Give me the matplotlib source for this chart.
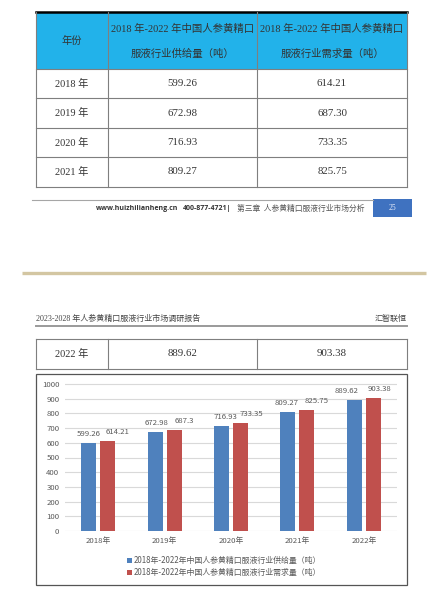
import numpy as np
import matplotlib.pyplot as plt
from matplotlib.patches import Rectangle

# data
years = ['2018', '2019', '2020', '2021', '2022']
supply = [599.26, 672.98, 716.93, 809.27, 889.62]
demand = [614.21, 687.30, 733.35, 825.75, 903.38]
head_year = '年份'
head_supply = ['2018 年-2022 年中国人参黄精口', '服液行业供给量（吨）']
head_demand = ['2018 年-2022 年中国人参黄精口', '服液行业需求量（吨）']
legend_names = ['2018年-2022年中国人参黄精口服液行业供给量（吨）',
                '2018年-2022年中国人参黄精口服液行业需求量（吨）']
colors = ['#4f81bd', '#c0504d']

# label nudges (px), as placed in the original to avoid overlap
sup_dx = [0, 1.5, 4, -1, -8]
dem_dx = [10, 10, 11, 10, 6]

W, H = 447, 597
fig = plt.figure(figsize=(W / 100, H / 100), dpi=100)
bg = fig.add_axes([0, 0, 1, 1])
bg.set_xlim(0, W); bg.set_ylim(H, 0); bg.axis('off')

serif = ['Liberation Serif', 'Noto Sans CJK SC']
cjk = ['Noto Sans CJK SC', 'DejaVu Sans']
txt = '#333333'
grid_c = '#7f7f7f'

# ---- upper table (end of page 25)
xe = [36, 108, 257, 407]
ye = [12, 69, 98, 128, 157, 187]
bg.add_patch(Rectangle((xe[0], ye[0]), xe[-1] - xe[0], ye[1] - ye[0], color='#22b2ea', lw=0))
for y in ye[1:]:
    bg.plot([xe[0], xe[-1]], [y, y], color=grid_c, lw=0.8)
bg.plot([xe[0], xe[-1]], [ye[0], ye[0]], color='black', lw=1.8)
for x in xe:
    bg.plot([x, x], [ye[0], ye[-1]], color=grid_c, lw=0.8)
cx = [(xe[i] + xe[i + 1]) / 2 for i in range(3)]
bg.text(cx[0], 41, head_year, ha='center', va='center', fontsize=7.4, family=serif, color=txt)
for c, lines in zip(cx[1:], [head_supply, head_demand]):
    bg.text(c, 29, lines[0], ha='center', va='center', fontsize=7.5, family=serif, color=txt)
    bg.text(c, 54, lines[1], ha='center', va='center', fontsize=7.5, family=serif, color=txt)
for i in range(4):
    yc = (ye[i + 1] + ye[i + 2]) / 2
    bg.text(cx[0], yc, years[i] + ' 年', ha='center', va='center', fontsize=7.4, family=serif, color=txt)
    bg.text(cx[1], yc, f'{supply[i]:.2f}', ha='center', va='center', fontsize=7.8, family=serif, color=txt)
    bg.text(cx[2], yc, f'{demand[i]:.2f}', ha='center', va='center', fontsize=7.8, family=serif, color=txt)

# ---- footer of page 25
bg.plot([32, 373], [199.5, 199.5], color='#a6a6a6', lw=0.8)
bg.add_patch(Rectangle((373, 199), 39, 18, color='#3f72c0', lw=0))
bg.text(392, 207.5, '25', ha='center', va='center', fontsize=5.5, family=serif, color='#e8eefa')
bg.text(96, 209, 'www.huizhilianheng.cn', ha='left', va='center', fontsize=5.0,
        family='Open Sans', weight='bold', color='#333333')
bg.text(183, 209, '400-877-4721|', ha='left', va='center', fontsize=5.0,
        family='Open Sans', weight='bold', color='#333333')
bg.text(237, 209, '第三章  人参黄精口服液行业市场分析', ha='left', va='center', fontsize=5.6,
        family=cjk, color='#555555')

# ---- page break
bg.plot([22, 426], [273, 273], color='#d3c6a2', lw=2.4, solid_capstyle='butt')

# ---- header of page 26
bg.text(36, 319, '2023-2028 年人参黄精口服液行业市场调研报告', ha='left', va='center',
        fontsize=5.8, family=serif, color='#444444')
bg.text(407, 319, '汇智联恒', ha='right', va='center', fontsize=5.8, family=serif, color='#444444')
bg.plot([36, 407], [326, 326], color='#9a9a9a', lw=1.4)

# ---- 2022 row
ye2 = [339, 369]
for y in ye2:
    bg.plot([xe[0], xe[-1]], [y, y], color=grid_c, lw=0.8)
for x in xe:
    bg.plot([x, x], ye2, color=grid_c, lw=0.8)
yc = sum(ye2) / 2
bg.text(cx[0], yc, years[4] + ' 年', ha='center', va='center', fontsize=7.4, family=serif, color=txt)
bg.text(cx[1], yc, f'{supply[4]:.2f}', ha='center', va='center', fontsize=7.8, family=serif, color=txt)
bg.text(cx[2], yc, f'{demand[4]:.2f}', ha='center', va='center', fontsize=7.8, family=serif, color=txt)

# ---- chart frame
bg.add_patch(Rectangle((36, 374), 371, 211, facecolor='white', edgecolor='#555555', lw=0.9))

# legend
for i, (name, c) in enumerate(zip(legend_names, colors)):
    y = 560 + 12 * i
    bg.add_patch(Rectangle((126.5, y - 2.5), 5, 5, color=c, lw=0))
    bg.text(134, y, name, ha='left', va='center', fontsize=5.7, family=cjk, color='#595959')

# ---- bar chart
top = 1010
ax = fig.add_axes([65 / W, (H - 531) / H, 332 / W, 147 * top / 1000 / H])
ax.patch.set_alpha(0)
x = np.arange(len(years))
off, bw = 0.143, 0.226
b1 = ax.bar(x - off, supply, bw, color=colors[0], zorder=2)
b2 = ax.bar(x + off, demand, bw, color=colors[1], zorder=2)
for bars, vals, dxs in [(b1, supply, sup_dx), (b2, demand, dem_dx)]:
    for r, v, dx in zip(bars, vals, dxs):
        ax.annotate(f'{v:g}', (r.get_x() + r.get_width() / 2, v), xytext=(dx * 0.72, 3.5),
                    textcoords='offset points', ha='center', va='bottom',
                    fontsize=5.6, family=cjk, color='#595959')
ax.set_xlim(-0.5, len(years) - 0.5)
ax.set_ylim(0, top)
ax.set_yticks(range(0, 1001, 100))
ax.set_xticks(x)
ax.set_xticklabels([y + '年' for y in years], family=cjk)
for lab in ax.get_yticklabels():
    lab.set_family(cjk)
ax.yaxis.grid(True, color='#d9d9d9', lw=0.8, zorder=0)
ax.set_axisbelow(True)
for s in ax.spines.values():
    s.set_visible(False)
ax.tick_params(length=0, labelsize=5.6, colors='#595959')
ax.tick_params(axis='y', pad=4)
ax.tick_params(axis='x', pad=4)

fig.savefig('out.png', dpi=100, facecolor='white')
